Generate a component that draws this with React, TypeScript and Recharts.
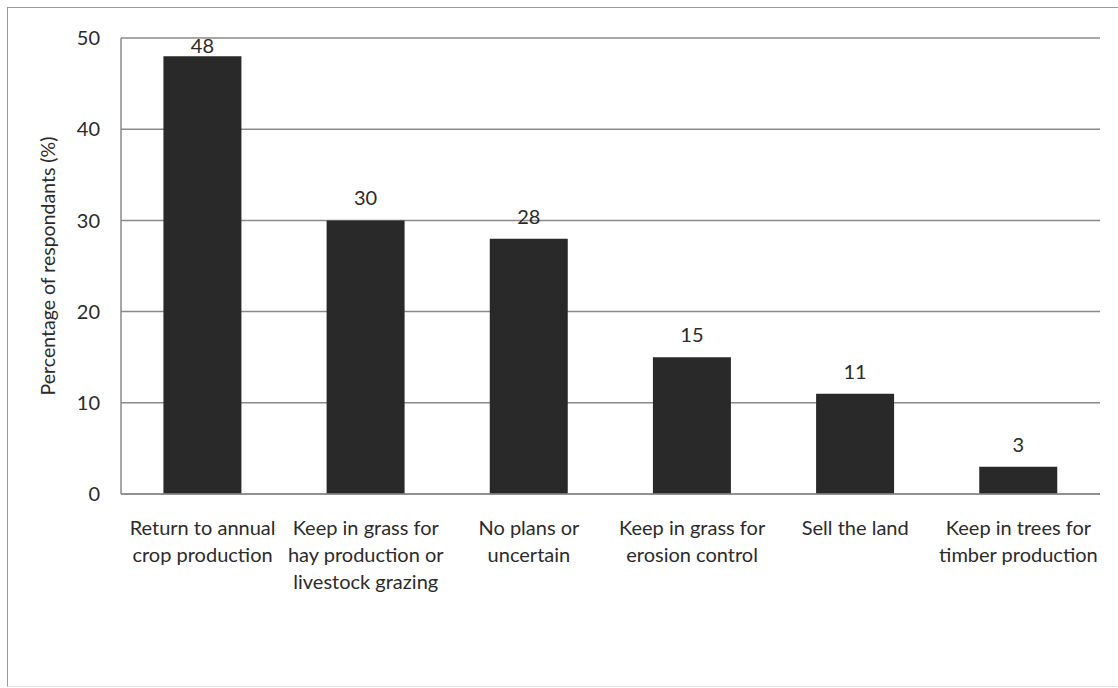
import { Bar, BarChart, CartesianGrid, LabelList, XAxis, YAxis } from "recharts";

const categories = [
  "Return to annual crop production",
  "Keep in grass for hay production or livestock grazing",
  "No plans or uncertain",
  "Keep in grass for erosion control",
  "Sell the land",
  "Keep in trees for timber production",
];

// how each category name breaks across lines under the axis
const categoryLines = [
  ["Return to annual", "crop production"],
  ["Keep in grass for", "hay production or", "livestock grazing"],
  ["No plans or", "uncertain"],
  ["Keep in grass for", "erosion control"],
  ["Sell the land"],
  ["Keep in trees for", "timber production"],
];

const percentages = [48, 30, 28, 15, 11, 3];

const yTicks = [0, 10, 20, 30, 40, 50];

const data = categories.map((name, i) => ({
  name,
  lines: categoryLines[i],
  value: percentages[i],
}));

const FONT = "Lato, 'Open Sans', sans-serif";
const TEXT = "#2b2b2b";
const GRID = "#8a8a8a";
const PLOT_TOP = 38;

function CategoryTick({ x, y, payload, index }: any) {
  const lines = categoryLines[index] ?? [String(payload.value)];
  return (
    <text x={x} y={y} textAnchor="middle" fill={TEXT} fontFamily={FONT} fontSize={20}>
      {lines.map((line, i) => (
        <tspan key={i} x={x} dy={i === 0 ? 41 : 27}>
          {line}
        </tspan>
      ))}
    </text>
  );
}

function ValueLabel({ x, y, width, value }: any) {
  // keep the tallest label inside the plot area
  const baseline = Math.max(y - 15, PLOT_TOP + 15);
  return (
    <text x={x + width / 2} y={baseline} textAnchor="middle" fill={TEXT} fontFamily={FONT} fontSize={20}>
      {value}
    </text>
  );
}

export default function App() {
  return (
    <div style={{ position: "absolute", left: 0, top: 0, width: 1118, height: 688, background: "#fff", overflow: "hidden" }}>
      <div
        style={{
          position: "absolute",
          left: 7,
          top: 7,
          width: 1130,
          height: 678,
          borderLeft: "1.5px solid #9a9a9a",
          borderTop: "1.5px solid #9a9a9a",
          borderBottom: "1px solid #e4e4e4",
        }}
      />
      <div style={{ position: "absolute", left: 0, top: 0 }}>
        <BarChart
          width={1118}
          height={688}
          data={data}
          margin={{ top: PLOT_TOP, right: 18, bottom: 94, left: 61 }}
          barCategoryGap="26%"
        >
          <CartesianGrid vertical={false} stroke={GRID} strokeWidth={1.5} />
          <XAxis
            dataKey="name"
            height={100}
            axisLine={{ stroke: GRID, strokeWidth: 1.5 }}
            tickLine={false}
            tickSize={0}
            tickMargin={0}
            interval={0}
            tick={<CategoryTick />}
          />
          <YAxis
            width={60}
            domain={[0, 50]}
            ticks={yTicks}
            axisLine={{ stroke: GRID, strokeWidth: 1.5 }}
            tickLine={false}
            tickSize={0}
            tickMargin={21}
            tick={{ fill: TEXT, fontFamily: FONT, fontSize: 20 }}
            label={{
              value: "Percentage of respondants (%)",
              angle: -90,
              position: "center",
              dx: -43,
              fill: TEXT,
              fontFamily: FONT,
              fontSize: 19.5,
            }}
          />
          <Bar dataKey="value" fill="#292929" isAnimationActive={false}>
            <LabelList dataKey="value" content={<ValueLabel />} />
          </Bar>
        </BarChart>
      </div>
    </div>
  );
}
